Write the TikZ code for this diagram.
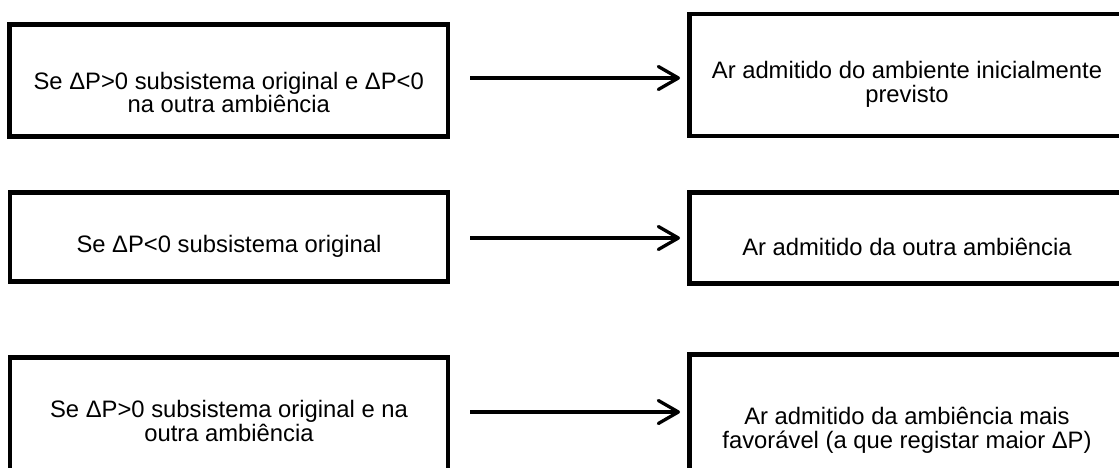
\documentclass[tikz,border=0pt]{standalone}
\usepackage{fontspec}
\setmainfont{Liberation Sans}
\usetikzlibrary{arrows.meta}
\begin{document}
\begin{tikzpicture}[x=1pt,y=1pt,
  box/.style={draw=black, line width=4.5pt, rectangle, inner sep=0pt},
  txt/.style={font=\fontsize{23.8}{23.7}\selectfont, align=center, inner sep=0pt, anchor=base},
  arr/.style={line width=3.3pt, -{Straight Barb[length=20pt,width=23pt,round]}}
]
\useasboundingbox (0,0) rectangle (1119,467);
% boxes
\node[box, minimum width=438.5pt, minimum height=112pt] (L1) at (228.75,386.5) {};
\node[box, minimum width=435pt, minimum height=122pt] (R1) at (907,392) {};
\node[box, minimum width=438pt, minimum height=89pt] (L2) at (229,230) {};
\node[box, minimum width=435pt, minimum height=91pt] (R2) at (907,229) {};
\node[box, minimum width=438pt, minimum height=120.5pt] (L3) at (229,49.25) {};
\node[box, minimum width=435pt, minimum height=123.5pt] (R3) at (907,50.75) {};
% texts (base anchor = baseline of the last line)
\node[txt] (L1t) at (228.75,354.3) {Se ΔP>0 subsistema original e ΔP<0\\na outra ambiência};
\node[txt] (R1t) at (907,365) {Ar admitido do ambiente inicialmente\\previsto};
\node[txt] (L2t) at (229,215) {Se ΔP<0 subsistema original};
\node[txt] (R2t) at (907,212) {Ar admitido da outra ambiência};
\node[txt] (L3t) at (229,26) {Se ΔP>0 subsistema original e na\\outra ambiência};
\node[txt] (R3t) at (907,19) {Ar admitido da ambiência mais\\favorável (a que registar maior ΔP)};
% arrows
\draw[arr, shorten <=19.75pt, shorten >=7.25pt] ([yshift=2.5pt]L1.east) -- ([yshift=-3pt]R1.west);
\draw[arr, shorten <=19.75pt, shorten >=7.25pt] ([yshift=-1pt]L2.east) -- (R2.west);
\draw[arr, shorten <=19.75pt, shorten >=7.25pt] ([yshift=5.75pt]L3.east) -- ([yshift=4.25pt]R3.west);
\end{tikzpicture}
\end{document}
